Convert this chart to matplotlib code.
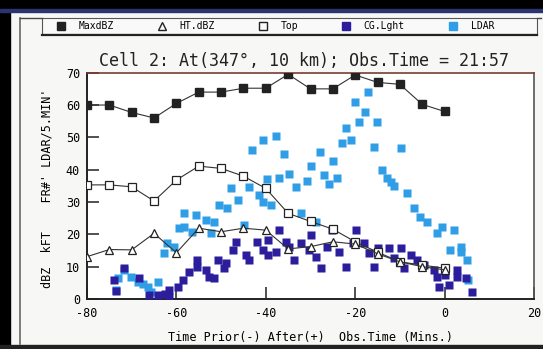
import numpy as np
import matplotlib.pyplot as plt
from matplotlib.patches import Rectangle
from matplotlib.lines import Line2D

plt.rcParams['font.family'] = ['DejaVu Sans Mono']

# radar-derived cell properties every 5 minutes
t_radar = [-80, -75, -70, -65, -60, -55, -50, -45, -40, -35, -30, -25, -20, -15, -10, -5, 0]
max_dbz = [60, 60, 57.7, 56, 60.5, 64, 64, 65.2, 65.2, 69.5, 65, 65, 69.3, 67, 66.4, 60.2, 58]
ht_dbz = [13.1, 15.3, 15.2, 20.3, 14.3, 21.9, 20.8, 21.9, 21.3, 15.5, 16.2, 17.7, 17, 14, 11.5, 10, 9]
top_kft = [35.3, 35.3, 34.7, 30.3, 36.8, 41.1, 40.4, 38.0, 34.2, 26.5, 24, 21.6, 17.7, 14.5, 11.5, 10.5, 9.5]

# cloud-to-ground flash rate (time, flashes)
cg_t = [-73.9, -73.5, -71.7, -68.3, -66.1, -64.2, -62.5, -61.6, -61.6, -59.7, -58.6, -57.1,
        -55.3, -55.3, -53.4, -52.7, -51.6, -50.8, -48.9, -49.3, -46.7, -47.4, -44.5, -43.7,
        -41.9, -40.7, -39.6, -37.0, -39.6, -37.8, -35.5, -34.8, -33.7, -32.2, -29.9, -30.3,
        -28.8, -27.7, -26.2, -25.1, -23.6, -22.1, -19.9, -20.6, -18.0, -16.9, -15.8, -15.0,
        -12.4, -11.3, -9.8, -9.1, -7.6, -6.1, -4.6, -2.4, -1.6, 0.2, -1.3, 1.0,
        2.8, 2.8, 6.2, 4.7]
cg_n = [5.9, 2.5, 9.5, 6.4, 1.2, 1.2, 1.5, 2.8, 0.7, 3.8, 5.9, 8.4,
        12.1, 9.8, 9.0, 6.9, 6.4, 12.1, 11.0, 9.5, 17.7, 15.2, 13.6, 12.1,
        17.7, 15.2, 13.6, 21.3, 18.2, 14.6, 17.7, 16.2, 12.1, 17.2, 19.8, 15.2,
        13.1, 9.5, 16.2, 21.3, 14.6, 10.0, 21.3, 17.2, 17.2, 14.1, 10.0, 15.7,
        15.7, 12.6, 15.7, 9.5, 13.6, 12.1, 10.5, 9.0, 6.9, 7.4, 3.8, 4.3,
        9.0, 6.9, 2.3, 6.4]

# LDAR sources per 5 minutes (time, count/5)
ldar_t = [-17.1, -20.0, -17.9, -19.2, -15.2, -22.1, -21.0, -23.0, -15.9, -9.8,
          -37.8, -40.7, -43.0, -36.0, -27.9, -29.9, -24.9, -13.9, -34.8, -37.0,
          -39.8, -30.7, -27.0, -24.0, -25.9, -33.3, -12.8, -11.3, -47.8, -43.7,
          -41.5, -46.3, -50.4, -48.6, -58.3, -55.6, -53.4, -51.6, -59.4, -56.4,
          -52.3, -44.8, -40.7, -62.0, -62.7, -60.5, -71.7, -70.2, -73.1, -73.5,
          -68.7, -66.4, -64.2, -65.7, -67.5, -58.3, -38.9, -32.2, -28.8, -12.1,
          -8.3, -6.9, -5.4, -3.9, -1.6, -0.5, 2.1, 1.3, 3.6, 3.6,
          5.1, 5.3]
ldar_n = [63.9, 60.8, 57.7, 54.6, 54.6, 52.8, 49.2, 48.2, 47.1, 46.6,
          50.4, 49.2, 46.1, 44.7, 45.5, 41.1, 42.6, 39.9, 38.6, 37.3,
          37.0, 36.6, 38.3, 37.3, 35.6, 34.7, 37.3, 34.8, 34.2, 34.7,
          32.2, 30.6, 29.1, 28.1, 26.5, 26.0, 24.4, 23.9, 21.9, 20.8,
          20.3, 22.9, 30.1, 17.2, 14.1, 16.2, 9.0, 6.9, 6.4, 2.8,
          5.4, 3.8, 5.4, 2.3, 4.5, 22.4, 29.1, 26.5, 23.9, 36.3,
          32.7, 28.1, 25.5, 23.9, 20.3, 22.4, 21.3, 15.2, 14.6, 16.2,
          12.1, 5.9]

W, H = 543, 349
fig = plt.figure(figsize=(W / 100, H / 100), dpi=100)
fig.patch.set_facecolor('#f7f7f5')


def fx(px):
    return px / W


def fy(py):
    return 1 - py / H


# window chrome around the plot
ft = fig.transFigure
fig.add_artist(Rectangle((0, 0), fx(10), 1, transform=ft, color='black', zorder=0))
fig.add_artist(Rectangle((0, fy(9)), 1, 9 / H, transform=ft, color='black', zorder=0))
fig.add_artist(Rectangle((0, fy(12)), 1, 3 / H, transform=ft, color='#2a3470', zorder=0))
fig.add_artist(Rectangle((0, 0), 1, 4 / H, transform=ft, color='#222222', zorder=0))
fig.add_artist(Line2D([fx(20), fx(20)], [fy(344), fy(18)], transform=ft, color='#666666', lw=1.2))
fig.add_artist(Line2D([fx(20), fx(42)], [fy(18), fy(18)], transform=ft, color='#444444', lw=1.0))
fig.add_artist(Line2D([fx(537), fx(541)], [fy(18), fy(18)], transform=ft, color='#444444', lw=1.0))
fig.add_artist(Rectangle((fx(42), fy(34)), fx(537) - fx(42), 16 / H, transform=ft,
                         facecolor='#f9f9f9', edgecolor='#555555', lw=0.8))
fig.add_artist(Line2D([fx(42), fx(537)], [fy(35), fy(35)], transform=ft, color='#222222', lw=1.6))

ax = fig.add_axes([fx(87), fy(299), (534 - 87) / W, (299 - 72.7) / H])
ax.set_facecolor('white')

sq = 5.8
ax.plot(ldar_t, ldar_n, ls='none', marker='s', ms=sq, color='#2f9ee6', mec='none', zorder=2)
ax.plot(cg_t, cg_n, ls='none', marker='s', ms=sq, color='#2b1d9c', mec='none', zorder=3)
ax.plot(t_radar, max_dbz, color='#333333', lw=0.8, marker='s', ms=5.2,
        mfc='#222222', mec='#222222', zorder=4)
ax.plot(t_radar, top_kft, color='#333333', lw=0.8, marker='s', ms=5.2,
        mfc='white', mec='#222222', mew=0.9, zorder=4)
ax.plot(t_radar, ht_dbz, color='#333333', lw=0.8, marker='^', ms=5.5,
        mfc='white', mec='#222222', mew=0.9, zorder=4)

ax.set_xlim(-80, 20)
ax.set_ylim(0, 70)
ax.set_xticks([-80, -60, -40, -20, 0, 20])
ax.set_xticklabels(['-80', '-60', '-40', '-20', '0', '20'])
ax.set_yticks(range(0, 71, 10))
ax.tick_params(direction='in', length=8.5, width=1.1, color='#222222', labelsize=8.5)
ax.tick_params(axis='x', pad=6)
ax.tick_params(axis='y', pad=5)

for side in ['left', 'bottom']:
    ax.spines[side].set_color('#222222')
    ax.spines[side].set_linewidth(1.4)
ax.spines['top'].set_color('#7a3d30')
ax.spines['top'].set_linewidth(1.2)
ax.spines['right'].set_color('#555555')
ax.spines['right'].set_linewidth(1.2)

ax.set_xlabel("Time Prior(-) After(+)  Obs.Time (Mins.)", fontsize=8.5)
ax.xaxis.set_label_coords(0.50, -0.141)
ax.set_ylabel("dBZ  kFT    FR#' LDAR/5.MIN'", fontsize=8.5)
ax.yaxis.set_label_coords(-0.076, 0.49)

fig.text(fx(304), fy(61), "Cell 2: At(347°, 10 km); Obs.Time = 21:57",
         ha='center', va='center', fontsize=12, color='#222222')

handles = [
    Line2D([], [], ls='none', marker='s', ms=5.5, color='#222222'),
    Line2D([], [], ls='none', marker='^', ms=6, mfc='none', mec='#222222'),
    Line2D([], [], ls='none', marker='s', ms=6, mfc='none', mec='#222222'),
    Line2D([], [], ls='none', marker='s', ms=6, color='#2b1d9c'),
    Line2D([], [], ls='none', marker='s', ms=6, color='#2f9ee6'),
]
labels = ['MaxdBZ', 'HT.dBZ', 'Top', 'CG.Lght', 'LDAR']
fig.legend(handles, labels, loc='center left', bbox_to_anchor=(fx(56), fy(26)),
           ncol=5, frameon=False, fontsize=7, handlelength=1.0, handletextpad=1.35,
           columnspacing=4.4, borderpad=0, borderaxespad=0)

fig.savefig('out.png', dpi=100, facecolor=fig.get_facecolor())
